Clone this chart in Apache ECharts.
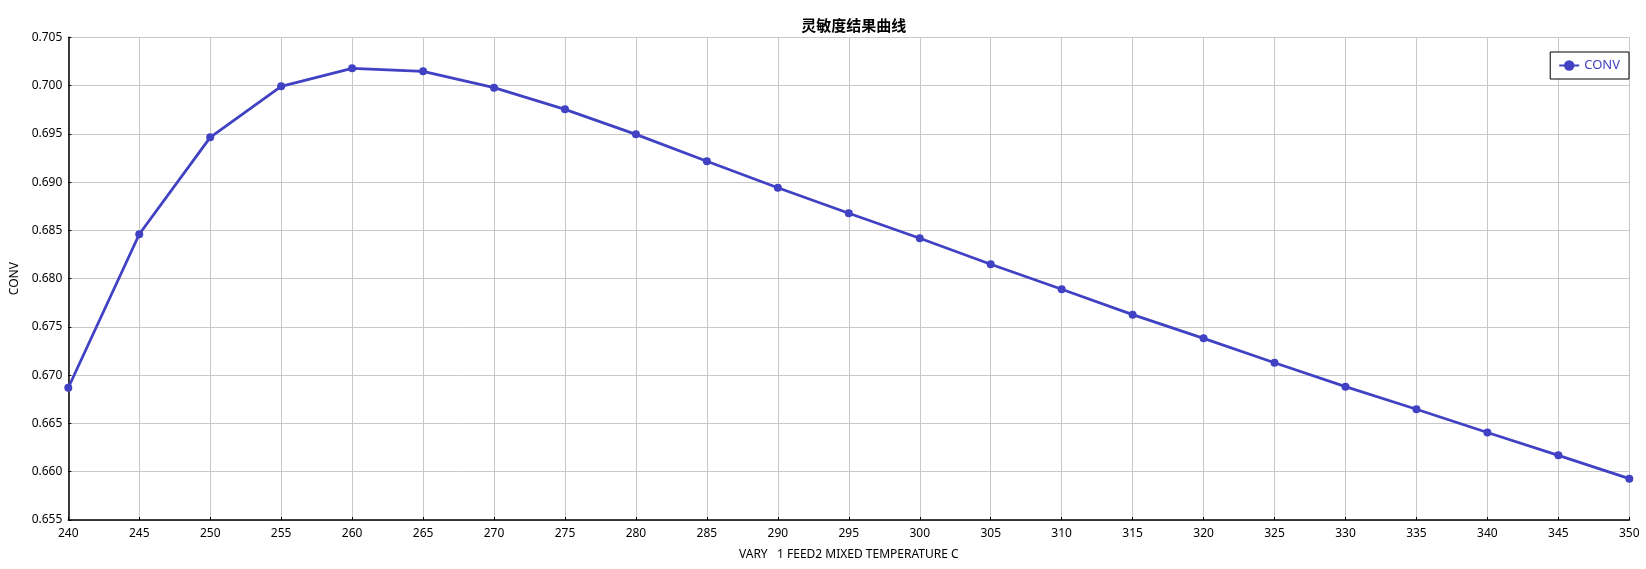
<!DOCTYPE html>
<html>
<head>
<meta charset="utf-8">
<script src="https://cdn.jsdelivr.net/npm/echarts@6/dist/echarts.min.js"></script>
<style>
html,body{margin:0;padding:0;background:#fff;}
#chart{width:1646px;height:569px;}
</style>
</head>
<body>
<div id="chart"></div>
<script>
const titleText = '灵敏度结果曲线';
const xName = 'VARY   1 FEED2 MIXED TEMPERATURE C';
const yName = 'CONV';
const seriesName = 'CONV';
const temperatures = [240,245,250,255,260,265,270,275,280,285,290,295,300,305,310,315,320,325,330,335,340,345,350];
const convValues = [0.6687,0.6846,0.69464,0.69992,0.70179,0.70148,0.69978,0.69754,0.69495,0.69216,0.68942,0.68677,0.68418,0.68149,0.6789,0.67627,0.67382,0.67129,0.66881,0.66647,0.66406,0.6617,0.65928];

const lineColor = '#4141c4';
const chart = echarts.init(document.getElementById('chart'));
chart.setOption({
  backgroundColor: '#fff',
  animation: false,
  title: {
    text: titleText,
    left: 848.8, textAlign: 'center', top: 13,
    textStyle: {fontFamily: 'Noto Sans CJK SC', fontWeight: 'bold', fontSize: 15, color: '#000'}
  },
  legend: {
    data: [seriesName],
    right: 17, top: 52,
    orient: 'vertical',
    backgroundColor: '#fff',
    borderColor: '#000', borderWidth: 1, borderRadius: 0,
    padding: [7, 9, 7, 8],
    itemWidth: 20, itemHeight: 13, itemGap: 5,
    textStyle: {color: lineColor, fontFamily: 'Noto Sans', fontSize: 13}
  },
  grid: {left: 68.3, right: 16.7, top: 37.3, bottom: 49, containLabel: false},
  xAxis: {
    type: 'value', min: 240, max: 350, interval: 5,
    name: xName, nameLocation: 'middle', nameGap: 29,
    nameTextStyle: {color: '#000', fontFamily: 'Noto Sans', fontSize: 12},
    axisLine: {show: true, onZero: false, lineStyle: {color: '#000', width: 1.5}},
    axisTick: {show: true, inside: true, length: 3, lineStyle: {color: '#000'}},
    axisLabel: {color: '#000', fontFamily: 'Noto Sans', fontSize: 12, margin: 8},
    splitLine: {show: true, lineStyle: {color: '#c8c8c8', width: 1}}
  },
  yAxis: {
    type: 'value', min: 0.655, max: 0.705, interval: 0.005,
    name: yName, nameLocation: 'middle', nameGap: 41,
    nameTextStyle: {color: '#000', fontFamily: 'Noto Sans', fontSize: 12},
    axisLine: {show: true, onZero: false, lineStyle: {color: '#000', width: 1.5}},
    axisTick: {show: true, inside: true, length: 3, lineStyle: {color: '#000'}},
    axisLabel: {color: '#000', fontFamily: 'Noto Sans', fontSize: 12, margin: 6,
      formatter: v => v.toFixed(3)},
    splitLine: {show: true, lineStyle: {color: '#c8c8c8', width: 1}}
  },
  series: [{
    name: seriesName,
    type: 'line',
    data: temperatures.map((t, i) => [t, convValues[i]]),
    symbol: 'circle', symbolSize: 8,
    itemStyle: {color: lineColor},
    lineStyle: {color: lineColor, width: 2.8}
  }]
});
</script>
</body>
</html>
